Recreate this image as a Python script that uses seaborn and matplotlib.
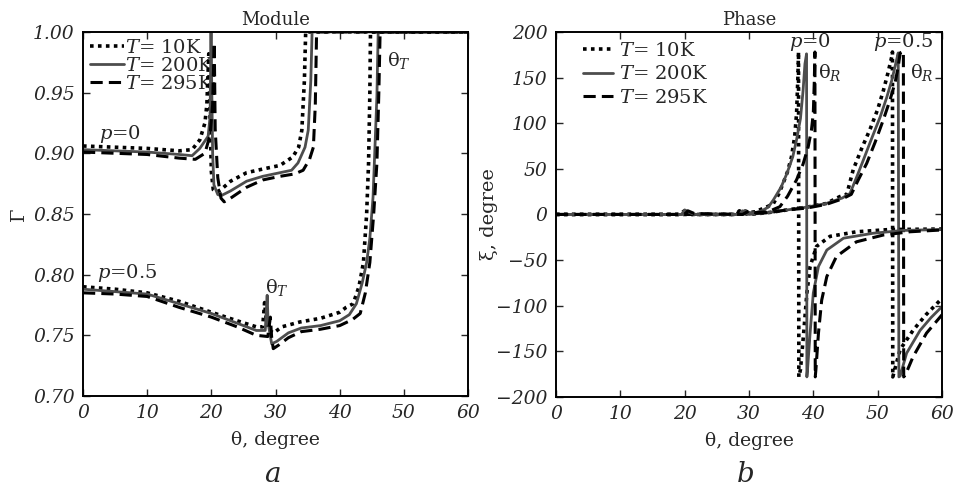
import matplotlib
matplotlib.use("Agg")
import matplotlib.pyplot as plt
import seaborn as sns
import pandas as pd
import numpy as np

sns.set_style("ticks")
plt.rcParams['font.family'] = ['DejaVu Serif']
plt.rcParams['mathtext.fontset'] = 'dejavuserif'

temps = ["10K", "200K", "295K"]

# ---- Module (Gamma), p = 0 ----
g0_10_th = [0, 5, 10, 15, 17, 18.2, 19.0, 19.3, 19.6, 19.8, 20.0, 20.3, 20.8, 21.5, 23, 25.5, 28, 30.7, 32.7, 33.6, 34.1, 34.5, 34.7, 60]
g0_10_v = [0.906, 0.905, 0.904, 0.902, 0.903, 0.911, 0.925, 0.94, 0.982, 0.93, 0.885, 0.870, 0.868, 0.870, 0.877, 0.884, 0.887, 0.890, 0.897, 0.905, 0.919, 0.96, 1.0, 1.0]
g0_200_th = [0, 5, 10, 15, 17, 18.2, 19.5, 19.8, 19.95, 20.2, 20.4, 21.0, 21.5, 23, 25.5, 28, 30.7, 32.5, 33.5, 34.6, 35.1, 35.5, 35.7, 60]
g0_200_v = [0.903, 0.902, 0.901, 0.899, 0.898, 0.904, 0.914, 0.93, 1.0, 0.90, 0.874, 0.866, 0.865, 0.869, 0.877, 0.881, 0.884, 0.886, 0.892, 0.905, 0.919, 0.96, 1.0, 1.0]
g0_295_th = [0, 5, 10, 15, 17.5, 19, 19.8, 20.2, 20.45, 20.6, 21.0, 21.5, 22.0, 23, 25.5, 28, 30.7, 33, 34.3, 35.3, 35.9, 36.2, 36.4, 60]
g0_295_v = [0.901, 0.900, 0.899, 0.896, 0.895, 0.900, 0.915, 0.94, 0.991, 0.92, 0.88, 0.863, 0.860, 0.863, 0.872, 0.878, 0.881, 0.883, 0.886, 0.895, 0.905, 0.94, 1.0, 1.0]

# ---- Module (Gamma), p = 0.5 ----
g5_10_th = [0, 5, 10, 15, 20, 24, 27, 28.0, 28.3, 28.6, 29.0, 29.7, 31, 33.8, 37, 40, 41, 42.1, 43, 43.7, 44.2, 44.5, 44.7, 44.8, 60]
g5_10_v = [0.790, 0.788, 0.785, 0.778, 0.769, 0.762, 0.757, 0.757, 0.777, 0.760, 0.754, 0.752, 0.757, 0.761, 0.764, 0.769, 0.773, 0.776, 0.790, 0.810, 0.85, 0.892, 0.95, 1.0, 1.0]
g5_200_th = [0, 5, 10, 15, 20, 24, 27, 28.4, 28.7, 28.85, 29.4, 30.2, 32, 34, 37, 40, 41.5, 42.6, 43.5, 44.2, 44.7, 45.2, 45.8, 46.0, 60]
g5_200_v = [0.788, 0.786, 0.784, 0.776, 0.768, 0.760, 0.754, 0.754, 0.783, 0.760, 0.743, 0.745, 0.752, 0.756, 0.758, 0.762, 0.767, 0.776, 0.793, 0.810, 0.83, 0.864, 0.947, 1.0, 1.0]
g5_295_th = [0, 5, 10, 15, 20, 24, 27, 28.8, 29.2, 29.4, 29.65, 30.5, 32, 34, 37, 40, 42, 43.2, 44, 44.7, 45.3, 45.8, 46.1, 46.3, 60]
g5_295_v = [0.785, 0.784, 0.782, 0.773, 0.765, 0.757, 0.750, 0.749, 0.765, 0.748, 0.739, 0.742, 0.748, 0.753, 0.755, 0.758, 0.763, 0.768, 0.785, 0.810, 0.85, 0.892, 0.95, 1.0, 1.0]

# ---- Phase (xi), p = 0 ----
x0_10_th = [0, 19, 20, 20.5, 21.2, 28, 29, 30, 31, 32, 33, 33.8, 34.6, 35.3, 36.0, 36.6, 37.1, 37.4, 37.6, 37.7, 37.75, 38.0, 38.5, 39.0, 39.5, 40.5, 42.6, 46.7, 51.9, 60]
x0_10_v = [0, 0, 4, 3, 0, 0, 4, 2, 3, 6, 9, 12, 22, 34, 47, 63, 85, 111, 150, 178, -178, -170, -130, -86, -57, -35, -24, -19, -16.5, -16]
x0_200_th = [0, 19.5, 20, 20.8, 21.5, 28.5, 29.3, 30, 31, 32, 33, 33.8, 35, 35.9, 36.8, 37.4, 38.0, 38.4, 38.7, 38.95, 39.0, 39.1, 39.5, 40.0, 40.8, 42.1, 44.7, 49.3, 54, 60]
x0_200_v = [0, 0, 5, 2, 0, 0, 4, 2, 2, 4, 8, 16, 30, 45, 63, 82, 105, 135, 165, 176, -178, -170, -130, -86, -57, -39, -26, -20.6, -17.5, -16.5]
x0_295_th = [0, 20, 20.5, 21.5, 29, 30, 31, 33, 34.8, 36, 37.4, 38.4, 39.2, 39.7, 40.0, 40.15, 40.25, 40.3, 40.4, 40.8, 41.3, 42.1, 43.6, 46.7, 50.9, 55, 60]
x0_295_v = [0, 0, 4, 1, 0, 4, 2, 3, 8.5, 20, 38, 55, 74, 92, 111, 145, 178, -178, -170, -130, -94, -68, -46, -30, -22.5, -19, -17]

# ---- Phase (xi), p = 0.5 ----
x5_10_th = [0, 28, 28.5, 29.3, 30, 33, 36, 39, 42, 44.1, 45.2, 46.2, 47.5, 48.8, 50, 50.9, 51.6, 52.2, 52.3, 52.35, 53.5, 55.5, 57.5, 60]
x5_10_v = [0, 0, 4, 1, 0, 2, 5, 8, 12, 19.5, 22, 49, 72, 93, 115, 136, 155, 173, 178, -178, -148, -127, -110, -92]
x5_200_th = [0, 28.5, 29, 29.6, 30, 33, 36, 39, 42, 44.5, 45.7, 46.8, 47.8, 49, 50.4, 51.4, 52.2, 52.8, 53.2, 53.3, 53.5, 54.5, 56.6, 58.3, 60]
x5_200_v = [0, 0, 4, 1, 0, 2, 5, 8, 12, 18, 23, 42, 60, 82, 107, 128, 147, 165, 177, -178, -177, -152, -127, -113, -101]
x5_295_th = [0, 29, 29.5, 30.2, 33, 36, 39, 42, 44.5, 45.9, 47, 48.3, 49.6, 50.9, 51.9, 52.7, 53.2, 53.5, 54.0, 54.05, 54.3, 55.5, 57.6, 60]
x5_295_v = [0, 0, 4, 1, 2, 5, 7, 11, 17, 22, 38, 56, 79, 104, 125, 144, 162, 177, 179, -178, -176, -156, -130, -110]

styles = {
    "10K": dict(color="black", linestyle=(0, (1, 1.2)), linewidth=2.6),
    "200K": dict(color="#4d4d4d", linestyle="-", linewidth=2.0),
    "295K": dict(color="black", linestyle=(0, (4, 2)), linewidth=2.2),
}

mod = {
    "0": {"10K": (g0_10_th, g0_10_v), "200K": (g0_200_th, g0_200_v), "295K": (g0_295_th, g0_295_v)},
    "0.5": {"10K": (g5_10_th, g5_10_v), "200K": (g5_200_th, g5_200_v), "295K": (g5_295_th, g5_295_v)},
}
pha = {
    "0": {"10K": (x0_10_th, x0_10_v), "200K": (x0_200_th, x0_200_v), "295K": (x0_295_th, x0_295_v)},
    "0.5": {"10K": (x5_10_th, x5_10_v), "200K": (x5_200_th, x5_200_v), "295K": (x5_295_th, x5_295_v)},
}

fig = plt.figure(figsize=(9.54, 4.94), dpi=100)
ax1 = fig.add_axes([0.087, 0.1984, 0.4036, 0.737])
ax2 = fig.add_axes([0.5828, 0.1964, 0.4046, 0.739])

def draw(ax, data):
    for p in ["0.5", "0"]:
        for t in temps:
            th, v = data[p][t]
            df = pd.DataFrame({"theta": th, "val": v})
            lab = f"$T$= {t}" if p == "0" else None
            sns.lineplot(data=df, x="theta", y="val", ax=ax, sort=False, estimator=None,
                         label=lab, legend=False, **styles[t])

draw(ax1, mod)
draw(ax2, pha)

for ax in (ax1, ax2):
    ax.set_xlim(0, 60)
    ax.set_xticks(range(0, 61, 10))
    ax.tick_params(direction="in", top=True, right=True, length=5, width=1, labelsize=13.5, pad=6)
    for s in ax.spines.values():
        s.set_linewidth(1.4)
        s.set_color("black")
    ax.set_xlabel("θ, degree", fontsize=13.5, labelpad=6)

ax1.set_ylim(0.70, 1.00)
ax1.set_yticks(np.arange(0.70, 1.001, 0.05))
ax1.set_yticklabels([f"{v:.2f}" for v in np.arange(0.70, 1.001, 0.05)])
ax1.set_ylabel("Γ", fontsize=14, labelpad=4)
ax2.set_ylim(-200, 200)
ax2.set_yticks(range(-200, 201, 50))
ax2.set_yticklabels([str(v).replace("-", "\u2212") for v in range(-200, 201, 50)])
ax2.set_ylabel("ξ, degree", fontsize=14, labelpad=-1)
ax1.set_xticklabels([str(v) for v in range(0, 61, 10)])
ax2.set_xticklabels([str(v) for v in range(0, 61, 10)])
for ax in (ax1, ax2):
    for lb in ax.get_xticklabels() + ax.get_yticklabels():
        lb.set_fontstyle("italic")

ax1.set_title("Module", fontsize=13, pad=5)
ax2.set_title("Phase", fontsize=13, pad=5)

leg1 = ax1.legend(loc="upper left", fontsize=14, handlelength=1.75, handletextpad=0.05,
                  labelspacing=0.0, borderaxespad=0.25, borderpad=0.1, frameon=False)
leg1.set_zorder(1)
leg2 = ax2.legend(loc="upper left", fontsize=14, handlelength=1.55, handletextpad=0.3,
                  labelspacing=0.3, borderaxespad=0.2, borderpad=0.3, frameon=False,
                  bbox_to_anchor=(0.045, 1.0))

# annotations
ax1.text(2.5, 0.912, "$p$=0", fontsize=14)
ax1.text(2.2, 0.797, "$p$=0.5", fontsize=14)
ax1.text(28.3, 0.785, "θ$_T$", fontsize=14)
ax1.text(47.3, 0.972, "θ$_T$", fontsize=14)
ax2.text(36.2, 184, "$p$=0", fontsize=14)
ax2.text(40.7, 150, "θ$_R$", fontsize=14)
ax2.text(49.3, 184, "$p$=0.5", fontsize=14)
ax2.text(55.0, 150, "θ$_R$", fontsize=14)

fig.text(0.285, 0.025, "a", fontsize=20, style="italic", ha="center")
fig.text(0.782, 0.025, "b", fontsize=20, style="italic", ha="center")

fig.savefig("out.png", dpi=100, facecolor="white")
